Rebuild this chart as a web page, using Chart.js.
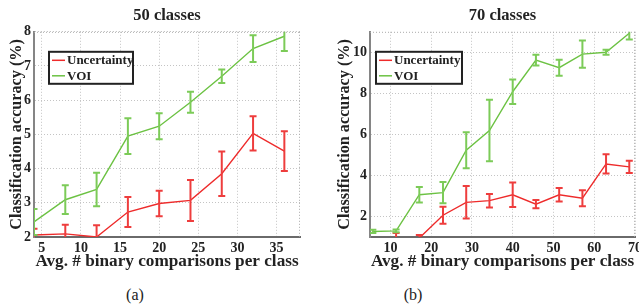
<!DOCTYPE html>
<html>
<head>
<meta charset="utf-8">
<script src="https://cdn.jsdelivr.net/npm/chart.js@4/dist/chart.umd.min.js"></script>
<style>
  body { margin: 0; background: #fff; }
  #wrap { position: relative; width: 639px; height: 307px; background: #fff; overflow: hidden; }
  canvas { position: absolute; top: 0; }
  .cap { position: absolute; top: 286px; font-family: "Liberation Serif", serif; font-size: 16px; color: #222; transform: translateX(-50%); }
</style>
</head>
<body>
<div id="wrap">
  <canvas id="c50" width="320" height="280" style="left:0px"></canvas>
  <canvas id="c70" width="319" height="280" style="left:320px"></canvas>
  <div class="cap" style="left:135px">(a)</div>
  <div class="cap" style="left:413px">(b)</div>
</div>
<script>
// ---- 50 classes ----
var x50 = [4, 8, 12, 16, 20, 24, 28, 32, 36]
var unc50 = [2.06, 2.09, 2.0, 2.73, 2.98, 3.07, 3.85, 5.03, 4.51]
var uncErr50 = [0.18, 0.27, 0.34, 0.44, 0.37, 0.6, 0.65, 0.5, 0.58]
var voi50 = [2.44, 3.09, 3.39, 4.95, 5.24, 5.94, 6.70, 7.51, 7.87]
var voiErr50 = [0.38, 0.42, 0.49, 0.52, 0.38, 0.31, 0.2, 0.39, 0.43]
var xTicks50 = [5, 10, 15, 20, 25, 30, 35]
var yTicks50 = [2, 3, 4, 5, 6, 7, 8]

// ---- 70 classes ----
var x70 = [5.7, 11.4, 17.1, 22.9, 28.6, 34.3, 40, 45.7, 51.4, 57.1, 62.9, 68.6]
var unc70 = [0.75, 0.85, 0.95, 2.06, 2.69, 2.77, 3.06, 2.6, 3.06, 2.89, 4.56, 4.42]
var uncErr70 = [0.2, 0.34, 0.15, 0.42, 0.79, 0.33, 0.6, 0.2, 0.33, 0.39, 0.47, 0.3]
var voi70 = [1.27, 1.3, 3.06, 3.16, 5.23, 6.19, 8.08, 9.62, 9.25, 9.91, 10.0, 10.93]
var voiErr70 = [0.08, 0.07, 0.38, 0.52, 0.88, 1.5, 0.6, 0.26, 0.39, 0.66, 0.12, 0.3]
var xTicks70 = [10, 20, 30, 40, 50, 60, 70]
var yTicks70 = [2, 4, 6, 8, 10]

var seriesNames = ['Uncertainty', 'VOI']
var colors = { unc: '#ee2b2b', voi: '#6cc243' }
var errColors = { unc: '#ee3d3d', voi: '#7ccb58' }

var serif = '"Liberation Serif", "Times New Roman", serif'

function pts(xs, ys){
    return xs.map(function(x, i){ return {x: x, y: ys[i]} })
}

// error bars drawn from each dataset's errs array via the scales
var errorBars = {
    id: 'errorBars',
    afterDatasetsDraw: function(chart){
        var ctx = chart.ctx
        var a = chart.chartArea
        var ys = chart.scales.y, xs = chart.scales.x
        ctx.save()
        ctx.beginPath()
        ctx.rect(a.left, a.top, a.right - a.left, a.bottom - a.top)
        ctx.clip()
        chart.data.datasets.forEach(function(ds){
            ctx.strokeStyle = ds.errColor
            ctx.lineWidth = 2
            ds.data.forEach(function(p, i){
                var e = ds.errs[i]
                var px = xs.getPixelForValue(p.x)
                var top = ys.getPixelForValue(p.y + e)
                var bot = ys.getPixelForValue(p.y - e)
                ctx.beginPath()
                ctx.moveTo(px, top); ctx.lineTo(px, bot)
                ctx.moveTo(px - 3.5, top); ctx.lineTo(px + 3.5, top)
                ctx.moveTo(px - 3.5, bot); ctx.lineTo(px + 3.5, bot)
                ctx.stroke()
            })
        })
        ctx.restore()
    }
}

// dotted top/right frame + boxed legend in the plot
var frameLegend = {
    id: 'frameLegend',
    afterDraw: function(chart){
        var ctx = chart.ctx
        var a = chart.chartArea
        var o = chart.options.plugins.frameLegend
        ctx.save()
        ctx.strokeStyle = '#aaa'
        ctx.lineWidth = 1
        ctx.setLineDash([1, 2])
        ctx.beginPath()
        ctx.moveTo(a.left, a.top + 0.5); ctx.lineTo(a.right, a.top + 0.5)
        ctx.moveTo(a.right - 0.5, a.top); ctx.lineTo(a.right - 0.5, a.bottom)
        ctx.stroke()
        ctx.setLineDash([])

        // legend box
        var bx = a.left + o.dx, by = a.top + o.dy, bw = o.w, bh = 32
        ctx.fillStyle = '#fff'
        ctx.fillRect(bx, by, bw, bh)
        ctx.strokeStyle = '#222'
        ctx.lineWidth = 2
        ctx.strokeRect(bx, by, bw, bh)
        ctx.font = 'bold 13px ' + serif
        ctx.textBaseline = 'middle'
        chart.data.datasets.forEach(function(ds, i){
            var cy = by + 8.5 + i * 15.5
            ctx.strokeStyle = ds.borderColor
            ctx.lineWidth = 1.5
            ctx.beginPath()
            ctx.moveTo(bx + 3, cy); ctx.lineTo(bx + 16, cy)
            ctx.stroke()
            ctx.fillStyle = '#222'
            ctx.fillText(ds.label, bx + 18, cy + 0.5)
        })
        ctx.restore()
    }
}

function makeChart(id, title, xs, unc, uncErr, voi, voiErr, xr, yr, xTicks, yTicks, yW, yTitlePad, padRight, legend){
    var ctx = document.getElementById(id)
    return new Chart(ctx, {
        type: 'line',
        data: {
            datasets: [{
                label: seriesNames[0],
                data: pts(xs, unc),
                errs: uncErr,
                borderColor: colors.unc,
                errColor: errColors.unc,
                borderWidth: 1.4,
                pointRadius: 0,
                tension: 0
            }, {
                label: seriesNames[1],
                data: pts(xs, voi),
                errs: voiErr,
                borderColor: colors.voi,
                errColor: errColors.voi,
                borderWidth: 1.4,
                pointRadius: 0,
                tension: 0
            }]
        },
        options: {
            responsive: false,
            animation: false,
            layout: { padding: { left: 0, right: padRight, top: 0, bottom: 0 } },
            plugins: {
                legend: { display: false },
                tooltip: { enabled: false },
                title: {
                    display: true,
                    text: title,
                    fullSize: false,
                    color: '#222',
                    font: { family: serif, size: 16.5, weight: 'bold' },
                    padding: { top: 6, bottom: 6 }
                },
                frameLegend: legend
            },
            scales: {
                x: {
                    type: 'linear',
                    min: xr[0], max: xr[1],
                    afterBuildTicks: function(s){ s.ticks = xTicks.map(function(v){ return {value: v} }) },
                    afterFit: function(s){ s.height = 43; s.paddingLeft = 0; s.paddingRight = 0 },
                    grid: { color: '#c4c4c4', drawTicks: false },
                    border: { color: '#6a6a6a', width: 2, dash: [1, 2] },
                    ticks: { color: '#222', padding: 3, maxRotation: 0, font: { family: serif, size: 14, weight: 'bold' } },
                    title: {
                        display: true,
                        text: 'Avg. # binary comparisons per class',
                        color: '#222',
                        font: { family: serif, size: 17.2, weight: 'bold' },
                        padding: { top: 0, bottom: 8.5 }
                    }
                },
                y: {
                    min: yr[0], max: yr[1],
                    afterBuildTicks: function(s){ s.ticks = yTicks.map(function(v){ return {value: v} }) },
                    afterFit: function(s){ s.width = yW; s.paddingTop = 0; s.paddingBottom = 0 },
                    grid: { color: '#c4c4c4', drawTicks: false },
                    border: { color: '#858585', width: 2, dash: [1, 2] },
                    ticks: { color: '#222', padding: 3, font: { family: serif, size: 14, weight: 'bold' } },
                    title: {
                        display: true,
                        text: 'Classification accuracy (%)',
                        color: '#222',
                        font: { family: serif, size: 16.2, weight: 'bold' },
                        padding: { top: yTitlePad, bottom: 0 }
                    }
                }
            }
        },
        plugins: [errorBars, frameLegend]
    })
}

makeChart('c50', '50 classes', x50, unc50, uncErr50, voi50, voiErr50,
    [4, 38], [2, 8], xTicks50, yTicks50, 34, 7.5, 20, { dx: 15, dy: 20, w: 84 })
makeChart('c70', '70 classes', x70, unc70, uncErr70, voi70, voiErr70,
    [5, 70], [1, 11], xTicks70, yTicks70, 50, 15, 4, { dx: 6, dy: 20, w: 86 })
</script>
</body>
</html>
